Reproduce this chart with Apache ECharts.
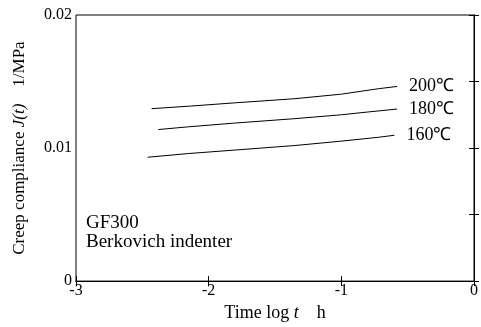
<!DOCTYPE html>
<html>
<head>
<meta charset="utf-8">
<script src="https://cdn.jsdelivr.net/npm/echarts@6/dist/echarts.min.js"></script>
<style>
  html, body { margin: 0; padding: 0; background: #fff; }
  #chart { width: 481px; height: 327px; }
</style>
</head>
<body>
<div id="chart"></div>
<script>
// creep compliance curves (log t in h, J in 1/MPa)
const temps = ["200℃", "180℃", "160℃"];
const logT200 = [-2.43, -2.13, -1.80, -1.35, -1.00, -0.72, -0.58];
const comp200 = [0.01296, 0.01316, 0.01340, 0.01371, 0.01405, 0.01446, 0.01463];
const logT180 = [-2.38, -2.16, -1.80, -1.35, -1.00, -0.80, -0.58];
const comp180 = [0.01139, 0.01159, 0.01188, 0.01221, 0.01250, 0.01271, 0.01293];
const logT160 = [-2.46, -2.15, -1.80, -1.35, -1.00, -0.72, -0.60];
const comp160 = [0.00931, 0.00959, 0.00985, 0.01019, 0.01052, 0.01081, 0.01096];
const xTicks = [-3, -2, -1, 0];
const yTicks = [0, 0.01, 0.02];

const serif = "'Liberation Serif', 'Times New Roman', serif";
const pair = (xs, ys) => xs.map((x, i) => [x, ys[i]]);

const makeSeries = (name, xs, ys) => ({
  name: name,
  type: "line",
  data: pair(xs, ys),
  showSymbol: false,
  silent: true,
  lineStyle: { color: "#000", width: 1 },
  endLabel: {
    show: true,
    formatter: "{a}",
    distance: 12,
    color: "#000",
    fontFamily: serif,
    fontSize: 18
  }
});

const chart = echarts.init(document.getElementById("chart"), null, { renderer: "canvas" });

const tickStyle = { inside: true, length: 5, lineStyle: { color: "#000", width: 1 } };

const option = {
  animation: false,
  backgroundColor: "#fff",
  grid: { left: 76, right: 5, top: 15, bottom: 45, show: true, borderColor: "#000", borderWidth: 1 },
  xAxis: [
    {
      type: "value",
      min: -3, max: 0, interval: 1,
      name: "Time log {i|t}    h",
      nameLocation: "middle",
      nameGap: 22,
      nameTextStyle: {
        color: "#000", fontFamily: serif, fontSize: 18,
        rich: { i: { fontStyle: "italic", fontFamily: serif, fontSize: 18, color: "#000" } }
      },
      axisLine: { lineStyle: { color: "#000", width: 1 } },
      axisTick: tickStyle,
      axisLabel: {
        color: "#000", fontFamily: serif, fontSize: 16, margin: 2,
        formatter: (v) => xTicks.includes(v) ? String(v) : ""
      },
      splitLine: { show: false }
    },
    {
      type: "value",
      position: "top",
      min: -3, max: 0, interval: 1,
      axisLine: { show: true, lineStyle: { color: "#000", width: 1 } },
      axisTick: tickStyle,
      axisLabel: { show: false },
      splitLine: { show: false }
    }
  ],
  yAxis: [
    {
      type: "value",
      min: 0, max: 0.02, interval: 0.005,
      name: "Creep compliance {i|J(t)}    1/MPa",
      nameLocation: "middle",
      nameGap: 48,
      nameTextStyle: {
        color: "#000", fontFamily: serif, fontSize: 17,
        rich: { i: { fontStyle: "italic", fontFamily: serif, fontSize: 17, color: "#000" } }
      },
      axisLine: { show: true, lineStyle: { color: "#000", width: 1 } },
      axisTick: tickStyle,
      axisLabel: {
        color: "#000", fontFamily: serif, fontSize: 16, margin: 4,
        formatter: (v) => {
          const hit = yTicks.find((t) => Math.abs(t - v) < 1e-9);
          return hit === undefined ? "" : (hit === 0 ? "0" : hit.toFixed(2));
        }
      },
      splitLine: { show: false }
    },
    {
      type: "value",
      position: "right",
      min: 0, max: 0.02, interval: 0.005,
      axisLine: { show: true, lineStyle: { color: "#000", width: 1 } },
      axisTick: tickStyle,
      axisLabel: { show: false },
      splitLine: { show: false }
    }
  ],
  graphic: [
    {
      type: "text",
      left: 86,
      top: 214,
      style: {
        text: "GF300\nBerkovich indenter",
        fill: "#000",
        font: "19px " + serif,
        lineHeight: 19
      }
    }
  ],
  series: [
    makeSeries(temps[0], logT200, comp200),
    makeSeries(temps[1], logT180, comp180),
    makeSeries(temps[2], logT160, comp160)
  ]
};

chart.setOption(option);
</script>
</body>
</html>
